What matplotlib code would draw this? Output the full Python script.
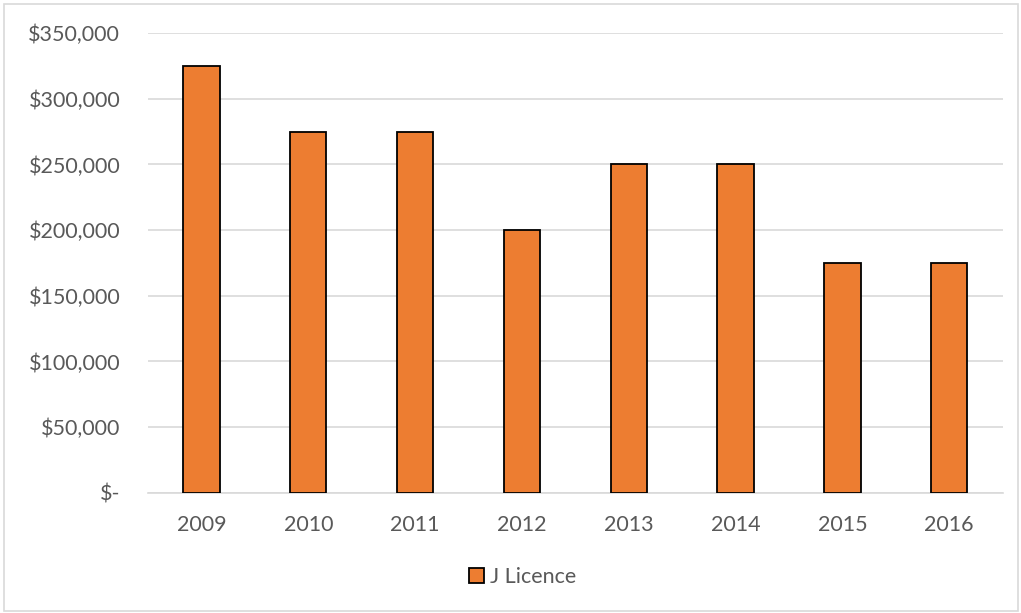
import matplotlib.pyplot as plt
from matplotlib.patches import Rectangle
from matplotlib.ticker import FuncFormatter

years = ['2009', '2010', '2011', '2012', '2013', '2014', '2015', '2016']
j_licence = [325000, 275000, 275000, 200000, 250000, 250000, 175000, 175000]

plt.rcParams['font.family'] = ['Lato', 'DejaVu Sans']
text_col = '#595959'

fig = plt.figure(figsize=(10.21, 6.13), dpi=100)
ax = fig.add_axes([0.145, 0.196, 0.837, 0.75])

ax.bar(range(len(years)), j_licence, width=0.34, color='#ED7D31',
       edgecolor='black', linewidth=1.3, label='J Licence', zorder=3)

ax.set_xlim(-0.5, len(years) - 0.5)
ax.set_ylim(0, 350000)
ax.set_yticks(range(0, 350001, 50000))


def money(v, pos):
    if v == 0:
        return '$-'
    return '${:,.0f}'.format(v)


ax.yaxis.set_major_formatter(FuncFormatter(money))
ax.set_xticks(range(len(years)))
ax.set_xticklabels(years)
ax.tick_params(axis='both', length=0, labelsize=15.5, colors=text_col)
ax.tick_params(axis='y', pad=20)
ax.tick_params(axis='x', pad=16)

ax.grid(axis='y', color='#d9d9d9', linewidth=1.2, zorder=0)
for side in ['top', 'right', 'left']:
    ax.spines[side].set_visible(False)
ax.spines['bottom'].set_color('#d9d9d9')
ax.spines['bottom'].set_linewidth(1.2)

leg = fig.legend(loc='center', bbox_to_anchor=(0.512, 0.058), frameon=False,
                 fontsize=15.5, handlelength=0.7, handleheight=0.7,
                 handletextpad=0.3)
for t in leg.get_texts():
    t.set_color(text_col)

# light outer border
fig.patches.append(Rectangle((0.004, 0.004), 0.993, 0.99, transform=fig.transFigure,
                             fill=False, edgecolor='#d9d9d9', linewidth=1.2))

fig.savefig('out.png', dpi=100)
